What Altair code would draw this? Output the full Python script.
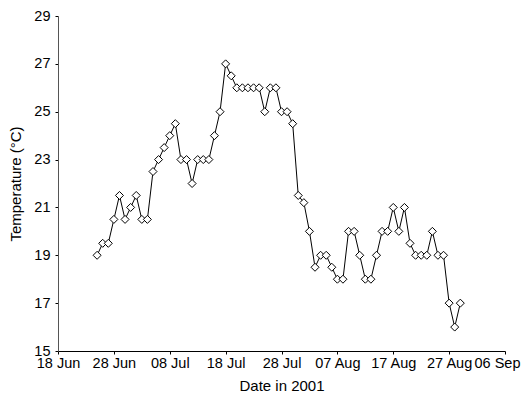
import altair as alt
import pandas as pd

# Daily temperature readings, 25 Jun 2001 .. 29 Aug 2001 (one per day)
start_date = "2001-06-25"
temps = [
    19, 19.5, 19.5, 20.5, 21.5, 20.5,                      # 25-30 Jun
    21, 21.5, 20.5, 20.5, 22.5, 23, 23.5, 24, 24.5, 23,    # 1-10 Jul
    23, 22, 23, 23, 23, 24, 25, 27, 26.5, 26,              # 11-20 Jul
    26, 26, 26, 26, 25, 26, 26, 25, 25, 24.5, 21.5,        # 21-31 Jul
    21.2, 20, 18.5, 19, 19, 18.5, 18, 18, 20, 20,          # 1-10 Aug
    19, 18, 18, 19, 20, 20, 21, 20, 21, 19.5,              # 11-20 Aug
    19, 19, 19, 20, 19, 19, 17, 16, 17,                    # 21-29 Aug
]
dates = [d.strftime("%Y-%m-%d") for d in pd.date_range(start_date, periods=len(temps), freq="D")]

x_tick_dates = ["2001-06-18", "2001-06-28", "2001-07-08", "2001-07-18", "2001-07-28",
                "2001-08-07", "2001-08-17", "2001-08-27", "2001-09-06"]
y_ticks = [15, 17, 19, 21, 23, 25, 27, 29]

df = pd.DataFrame({"date": dates, "temp": temps})

def dt(s):
    y, m, d = (int(v) for v in s.split("-"))
    return alt.DateTime(year=y, month=m, date=d, utc=True)

FONT = "Liberation Sans"

x_enc = alt.X(
    "date:T",
    scale=alt.Scale(type="utc", domain=[dt(x_tick_dates[0]), dt(x_tick_dates[-1])], nice=False),
    axis=alt.Axis(
        title="Date in 2001",
        values=[dt(s) for s in x_tick_dates],
        labelExpr="utcFormat(datum.value, '%d %b')",
        labelOffset={"condition": {"test": "datum.value >= utc(2001, 8, 1)", "value": -8}, "value": 0},
        grid=False,
        domainColor="#000000",
        tickColor="#000000",
        tickSize=3,
        labelPadding=2,
        labelFontSize=14.5,
        labelColor="#000000",
        labelFlush=False,
        labelOverlap=False,
        titleFontSize=15,
        titleFontWeight="normal",
        titleColor="#000000",
        titlePadding=9,
    ),
)
y_enc = alt.Y(
    "temp:Q",
    scale=alt.Scale(domain=[15, 29], nice=False, zero=False),
    axis=alt.Axis(
        title="Temperature (°C)",
        values=y_ticks,
        grid=False,
        domainColor="#555555",
        tickColor="#000000",
        tickSize=3,
        labelPadding=5,
        labelFontSize=14.5,
        labelColor="#000000",
        titleFontSize=15,
        titleFontWeight="normal",
        titleColor="#000000",
        titlePadding=10,
    ),
)

base = alt.Chart(df).encode(x=x_enc, y=y_enc)
line = base.mark_line(color="#000000", strokeWidth=1)
pts = base.mark_point(shape="diamond", size=64, filled=True, fill="#ffffff",
                      stroke="#000000", strokeWidth=1, opacity=1)

chart = (
    alt.layer(line, pts)
    .properties(
        width=447,
        height=335,
        autosize=alt.AutoSizeParams(type="none"),
        padding={"left": 50, "top": 8, "right": 16, "bottom": 44},
    )
    .configure(font=FONT)
    .configure_view(stroke=None)
)

chart.save("out.html", embed_options={"renderer": "svg", "actions": False})
